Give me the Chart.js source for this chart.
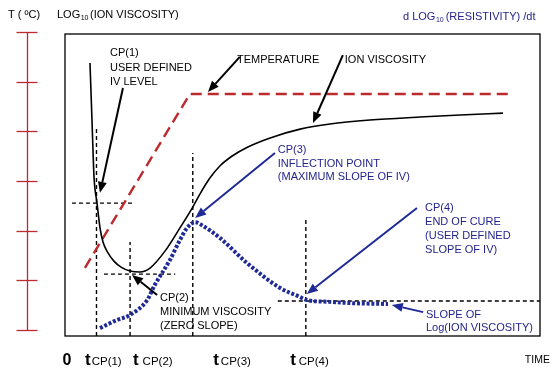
<!DOCTYPE html>
<html><head><meta charset="utf-8">
<script src="https://cdn.jsdelivr.net/npm/chart.js@4.4.1/dist/chart.umd.min.js"></script>
<style>html,body{margin:0;padding:0;background:#fff;} #wrap{width:559px;height:380px;}</style>
</head><body><div id="wrap"><canvas id="c" width="559" height="380"></canvas></div>
<script>
// ---- data (time in arbitrary units 0..100) ----
const tempTime = [4.2, 26.3, 93.3];
const tempValue = [1.25, 4.75, 4.75];
const ivTime = [5.26,5.68,5.89,6.11,6.74,7.37,8.0,9.05,10.3,11.8,13.7,15.8,17.9,21.05,24.2,26.9,28.4,30.5,32.6,35.2,38.5,43.2,49.5,55.8,64.2,74.7,83.2,92.2];
const ivValue = [90.4,71.5,61.6,52.6,44.0,35.8,31.1,27.5,24.8,22.8,21.5,21.2,22.5,28.1,35.8,42.7,47.0,52.3,56.3,59.6,62.6,65.6,68.5,70.2,71.5,72.5,73.2,73.8];
const slopeTime = [7.37,10.5,13.7,17.3,18.9,22.1,24.2,25.7,27.4,29.1,32.6,38.3,45.3,49.5,50.9,55.8,60.0,68.0];
const slopeValue = [2.6,5.0,7.0,11.9,16.9,25.2,31.8,35.8,37.7,36.4,32.5,24.2,15.9,12.9,11.9,11.3,10.9,10.6];
const tempTicks = [0,1,2,3,4,5,6];
const cpTime = [6.63, 13.7, 26.9, 50.7];
const cpLevel = [44.0, 20.5, 37.7, 11.6];
const xTickLabels = ['0','CP(1)','CP(2)','CP(3)','CP(4)','TIME'];

// ---- layout (not data) ----
const guideTop = [68.9, 31.1, 60.6, 38.7];
const hGuides = [[cpLevel[0], 1.47, 14.7], [cpLevel[1], 8.2, 23.2], [cpLevel[3], 44.8, 100]];
const BLUE = '#1f2a96', TBLUE = '#24248c', RED = '#bd2a2e';
const arrows = [
  {from:[12.2,82.1], to:[7.37,47.4], c:'#000'},
  {from:[19.4,13.6], to:[14.1,20.2], c:'#000'},
  {from:[36.8,92.4], to:[30.1,80.8], c:'#000'},
  {from:[58.5,93.0], to:[52.2,70.5], c:'#000'},
  {from:[44.2,60.6], to:[27.4,39.1], c:BLUE},
  {from:[74.1,42.4], to:[50.9,13.9], c:BLUE},
  {from:[75.4,7.9], to:[68.8,10.3], c:BLUE}
];
const notes = [
  {x:9.47, y:93.7, lh:14.5, c:'#000', lines:['CP(1)','USER DEFINED','IV LEVEL']},
  {x:36.2, y:91.4, lh:14, c:'#000', lines:['TEMPERATURE']},
  {x:58.9, y:91.4, lh:14, c:'#000', lines:['ION VISCOSITY']},
  {x:44.8, y:61.6, lh:13.7, c:TBLUE, lines:['CP(3)','INFLECTION POINT','(MAXIMUM SLOPE OF IV)']},
  {x:75.8, y:42.4, lh:14, c:TBLUE, lines:['CP(4)','END OF CURE','(USER DEFINED','SLOPE OF IV)']},
  {x:20.0, y:12.6, lh:14, c:'#000', lines:['CP(2)','MINIMUM VISCOSITY','(ZERO SLOPE)']},
  {x:76.0, y:7.0, lh:13, c:TBLUE, lines:['SLOPE OF','Log(ION VISCOSITY)']}
];
const bottomX = [0.3, 4.21, 14.3, 31.2, 47.4, 96.8];
const bottomGap = [0, 1, 4, 2, 3, 0];

const pts = (xs, ys) => xs.map((x, i) => ({x, y: ys[i]}));
const guideDs = [];
cpTime.forEach((t, i) => guideDs.push(pts([t, t], [0, guideTop[i]])));
hGuides.forEach(g => guideDs.push(pts([g[1], g[2]], [g[0], g[0]])));

const datasets = [
  {data: pts(slopeTime, slopeValue), borderColor: BLUE, borderWidth: 4, borderDash: [3, 1.8], cubicInterpolationMode: 'monotone', yAxisID: 'y'},
  {data: pts(ivTime, ivValue), borderColor: '#000', borderWidth: 1.6, cubicInterpolationMode: 'monotone', yAxisID: 'y'},
  {data: pts(tempTime, tempValue), borderColor: RED, borderWidth: 2.4, borderDash: [11, 6], tension: 0, yAxisID: 'yT'}
];
guideDs.forEach(d => datasets.push({data: d, borderColor: '#000', borderWidth: 1.4, borderDash: [4, 3], tension: 0, yAxisID: 'y'}));
datasets.forEach(d => { d.pointRadius = 0; d.fill = false; });

const FONT = '"Liberation Sans", Arial, sans-serif';
function arrow(ctx, x1, y1, x2, y2, c) {
  const a = Math.atan2(y2 - y1, x2 - x1), L = 11, W = 4.5;
  const bx = x2 - L * Math.cos(a), by = y2 - L * Math.sin(a);
  ctx.save(); ctx.strokeStyle = c; ctx.fillStyle = c; ctx.lineWidth = 2; ctx.setLineDash([]);
  ctx.beginPath(); ctx.moveTo(x1, y1); ctx.lineTo(bx, by); ctx.stroke();
  ctx.beginPath(); ctx.moveTo(x2, y2);
  ctx.lineTo(bx + W * Math.sin(a), by - W * Math.cos(a));
  ctx.lineTo(bx - W * Math.sin(a), by + W * Math.cos(a));
  ctx.closePath(); ctx.fill(); ctx.restore();
}
function runs(ctx, x, y, parts, color) {
  ctx.fillStyle = color; ctx.textBaseline = 'alphabetic'; ctx.textAlign = 'left';
  parts.forEach(p => {
    const s = String(p[1]);
    ctx.font = (s.startsWith('bold') ? 'bold ' + s.slice(5) : s) + 'px ' + FONT;
    ctx.fillText(p[0], x, y + (p[2] || 0));
    x += ctx.measureText(p[0]).width + (p[3] || 0);
  });
}

const decor = {
  id: 'decor',
  afterDatasetsDraw(chart) {
    const ctx = chart.ctx, a = chart.chartArea, sx = chart.scales.x, sy = chart.scales.y, st = chart.scales.yT;
    ctx.save();
    ctx.strokeStyle = '#000'; ctx.lineWidth = 1.3; ctx.setLineDash([]);
    ctx.strokeRect(a.left, a.top, a.right - a.left, a.bottom - a.top);
    const ax = 27.5;
    ctx.strokeStyle = RED; ctx.lineWidth = 1.3;
    ctx.beginPath();
    ctx.moveTo(ax, Math.round(st.getPixelForValue(tempTicks[tempTicks.length - 1])) + 0.5);
    ctx.lineTo(ax, Math.round(st.getPixelForValue(tempTicks[0])) + 0.5);
    ctx.stroke();
    tempTicks.forEach(t => {
      const y = Math.round(st.getPixelForValue(t)) + 0.5;
      ctx.beginPath(); ctx.moveTo(ax - 11, y); ctx.lineTo(ax + 10, y); ctx.stroke();
    });
    arrows.forEach(r => arrow(ctx, sx.getPixelForValue(r.from[0]), sy.getPixelForValue(r.from[1]), sx.getPixelForValue(r.to[0]), sy.getPixelForValue(r.to[1]), r.c));
    ctx.font = '11px ' + FONT; ctx.textBaseline = 'middle'; ctx.textAlign = 'left';
    notes.forEach(n => {
      ctx.fillStyle = n.c;
      const x = sx.getPixelForValue(n.x), y = sy.getPixelForValue(n.y);
      n.lines.forEach((l, i) => ctx.fillText(l, x, y + i * n.lh));
    });
    runs(ctx, 8, 18, [['T ( ºC)', 11]], '#000');
    runs(ctx, 57, 18, [['LOG', 11, 0, 0.5], ['10', 7, 2, 1.5], ['(ION VISCOSITY)', 11]], '#000');
    runs(ctx, 403, 20, [['d LOG', 11, 0, 0.5], ['10', 7, 2, 2], ['(RESISTIVITY) /dt', 11]], TBLUE);
    const by = a.bottom + 29;
    xTickLabels.forEach((lab, i) => {
      const x = sx.getPixelForValue(bottomX[i]);
      if (i === 0) runs(ctx, x - 4, by, [[lab, 'bold 16']], '#000');
      else if (i === xTickLabels.length - 1) runs(ctx, x, by - 2, [[lab, 10.5]], '#000');
      else runs(ctx, x, by, [['t', 'bold 17', 0, bottomGap[i]], [lab, 11.5]], '#000');
    });
    ctx.restore();
  }
};

new Chart(document.getElementById('c'), {
  type: 'line',
  data: {datasets},
  options: {
    responsive: false, animation: false, events: [],
    layout: {padding: {left: 65, top: 34, right: 19, bottom: 44}},
    plugins: {legend: {display: false}, tooltip: {enabled: false}},
    scales: {
      x: {type: 'linear', min: 0, max: 100, display: false},
      y: {min: 0, max: 100, display: false},
      yT: {min: -0.12, max: 5.956, display: false}
    }
  },
  plugins: [decor]
});
</script>
</body></html>
